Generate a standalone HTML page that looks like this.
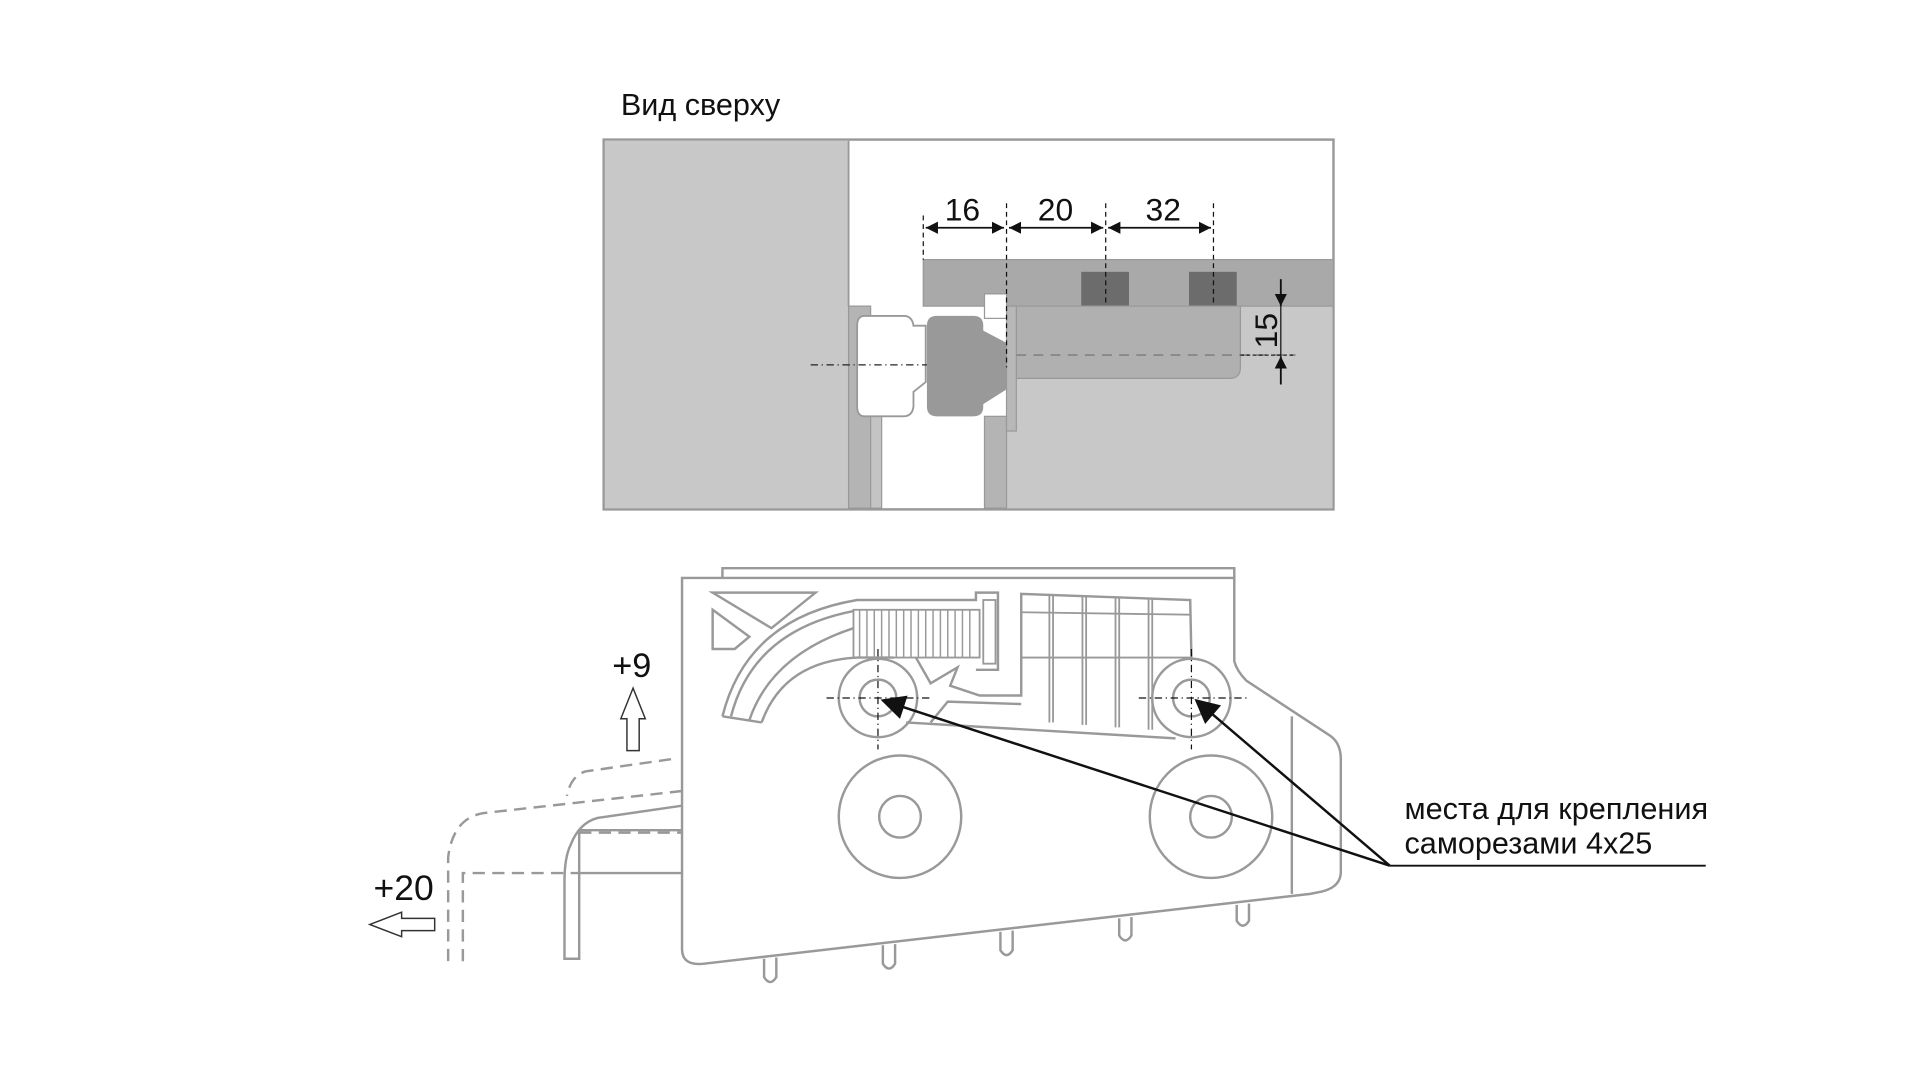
<!DOCTYPE html>
<html><head><meta charset="utf-8"><style>
html,body{margin:0;padding:0;background:#fff;width:1920px;height:1080px;overflow:hidden}
svg{display:block}
text{font-family:"Liberation Sans",sans-serif;fill:#111}
</style></head><body>
<svg width="1920" height="1080" viewBox="0 0 1568 882" preserveAspectRatio="none" xmlns="http://www.w3.org/2000/svg">
<defs>
<marker id="ah" viewBox="0 0 10 10" refX="10" refY="5" markerWidth="10" markerHeight="10" orient="auto-start-reverse" markerUnits="userSpaceOnUse"><path d="M0,0 L10,5 L0,10 z" fill="#111"/></marker>
<marker id="big" viewBox="0 0 10 10" refX="9" refY="5" markerWidth="24" markerHeight="20" orient="auto" markerUnits="userSpaceOnUse"><path d="M0,0 L10,5 L0,10 z" fill="#111"/></marker>
</defs>
<!-- TOP VIEW -->
<text x="507" y="94" font-size="25">Вид сверху</text>
<rect x="493" y="114" width="596" height="302" fill="#fff" stroke="#999" stroke-width="2"/>
<rect x="494" y="115" width="199" height="300" fill="#c8c8c8"/>
<line x1="693" y1="115" x2="693" y2="250" stroke="#999" stroke-width="1.5"/>
<rect x="822" y="250" width="266" height="165" fill="#c8c8c8"/>
<rect x="693" y="250" width="18" height="165" fill="#b4b4b4" stroke="#999" stroke-width="1"/>
<rect x="711" y="258" width="9" height="157" fill="#c4c4c4" stroke="#999" stroke-width="1"/>
<rect x="804" y="340" width="18" height="75" fill="#b4b4b4" stroke="#999" stroke-width="1"/>
<rect x="754" y="212" width="335" height="38" fill="#a9a9a9" stroke="#999" stroke-width="1"/>
<rect x="883" y="222" width="39" height="28" fill="#6c6c6c"/>
<rect x="971" y="222" width="39" height="28" fill="#6c6c6c"/>
<path d="M830,250 H1013 V300 Q1013,309 1004,309 H830 Z" fill="#b0b0b0" stroke="#999"/>
<rect x="822" y="250" width="8" height="102" fill="#b8b8b8" stroke="#999"/>
<path d="M706,258 H738 Q745,258 746,266 H756 V312 L746,320 V332 Q745,340 738,340 H706 Q700,340 700,332 V266 Q700,258 706,258 Z" fill="#fff" stroke="#999" stroke-width="1.5"/>
<path d="M765,258 H795 Q803,258 803,266 V270 L822,280 V318 L803,330 V332 Q803,340 795,340 H765 Q757,340 757,332 V266 Q757,258 765,258 Z" fill="#999"/>
<rect x="804" y="240" width="18" height="20" fill="#fff" stroke="#999"/>
<line x1="662" y1="298" x2="757" y2="298" stroke="#222" stroke-dasharray="6,3,1,3"/>
<line x1="830" y1="290" x2="1058" y2="290" stroke="#888" stroke-width="1.5" stroke-dasharray="8,6"/>
<line x1="1013" y1="290" x2="1058" y2="290" stroke="#222" stroke-dasharray="3,2"/>
<g stroke="#111" stroke-width="1" stroke-dasharray="4,3">
<line x1="754" y1="176" x2="754" y2="212"/><line x1="822" y1="166" x2="822" y2="300"/>
<line x1="903" y1="166" x2="903" y2="250"/><line x1="991" y1="166" x2="991" y2="250"/>
</g>
<g stroke="#111" stroke-width="1.5">
<line x1="756" y1="186" x2="820" y2="186" marker-start="url(#ah)" marker-end="url(#ah)"/>
<line x1="824" y1="186" x2="901" y2="186" marker-start="url(#ah)" marker-end="url(#ah)"/>
<line x1="905" y1="186" x2="989" y2="186" marker-start="url(#ah)" marker-end="url(#ah)"/>
<line x1="1046" y1="228" x2="1046" y2="250" marker-end="url(#ah)"/>
<line x1="1046" y1="314" x2="1046" y2="291" marker-end="url(#ah)"/>
<line x1="1046" y1="250" x2="1046" y2="291" stroke-width="1"/>
</g>
<text x="786" y="180" font-size="26" text-anchor="middle">16</text>
<text x="862" y="180" font-size="26" text-anchor="middle">20</text>
<text x="950" y="180" font-size="26" text-anchor="middle">32</text>
<text x="0" y="0" font-size="26" text-anchor="middle" transform="translate(1043,270) rotate(-90)">15</text>

<!-- BOTTOM VIEW -->
<g fill="none" stroke="#999" stroke-width="2">
<path d="M590,472 V464 H1008 V472"/>
<path d="M557,472 H1008 V540 Q1010,548 1018,556 L1085,600 Q1095,606 1095,620 V712 Q1095,724 1080,728 L1070,730 L575,787 Q557,789 557,775 Z"/>
<line x1="1055" y1="585" x2="1055" y2="730"/>
<path d="M624,783 V798 Q629,806 634,798 V782"/>
<path d="M721,772 V787 Q726,795 731,787 V771"/>
<path d="M817,761 V776 Q822,784 827,776 V760"/>
<path d="M914,750 V764 Q919,772 924,764 V749"/>
<path d="M1010,739 V752 Q1015,760 1020,752 V738"/>
<circle cx="717" cy="570" r="32"/><circle cx="717" cy="570" r="15"/>
<circle cx="973" cy="570" r="32"/><circle cx="973" cy="570" r="15"/>
<ellipse cx="735" cy="667" rx="50" ry="50"/><circle cx="735" cy="667" r="17"/>
<ellipse cx="989" cy="667" rx="50" ry="50"/><circle cx="989" cy="667" r="17"/>
<path d="M582,484 H666 L630,513 Z"/>
<path d="M582,498 L612,520 L600,530 H582 Z"/>
<path d="M590,585 Q610,505 700,490 H797 V484 H815 V547 H797"/>
<path d="M597,585 Q615,515 697,499"/>
<path d="M612,588 Q630,535 697,513"/>
<path d="M622,590 Q640,540 700,537 H730"/>
<path d="M590,585 L622,590"/>
<rect x="697" y="498" width="103" height="39" stroke-width="1.5"/>
<g stroke-width="1.2">
<line x1="702" y1="498" x2="702" y2="537"/><line x1="708" y1="498" x2="708" y2="537"/><line x1="714" y1="498" x2="714" y2="537"/><line x1="720" y1="498" x2="720" y2="537"/><line x1="726" y1="498" x2="726" y2="537"/><line x1="732" y1="498" x2="732" y2="537"/><line x1="738" y1="498" x2="738" y2="537"/><line x1="744" y1="498" x2="744" y2="537"/><line x1="750" y1="498" x2="750" y2="537"/><line x1="756" y1="498" x2="756" y2="537"/><line x1="762" y1="498" x2="762" y2="537"/><line x1="768" y1="498" x2="768" y2="537"/><line x1="774" y1="498" x2="774" y2="537"/><line x1="780" y1="498" x2="780" y2="537"/><line x1="786" y1="498" x2="786" y2="537"/><line x1="792" y1="498" x2="792" y2="537"/>
</g>
<rect x="803" y="490" width="10" height="52" stroke-width="1.5"/>
<path d="M748,537 L760,558 L782,545 L776,560 L800,568 H834 V485 L972,490 L973,538"/>
<path d="M760,590 L774,573 L834,575"/>
<path d="M740,590 L960,603"/>
<g stroke-width="1.5">
<line x1="857" y1="486" x2="857" y2="590"/><line x1="860" y1="486" x2="860" y2="590"/>
<line x1="884" y1="487" x2="884" y2="592"/><line x1="887" y1="487" x2="887" y2="592"/>
<line x1="911" y1="488" x2="911" y2="594"/><line x1="914" y1="488" x2="914" y2="594"/>
<line x1="938" y1="489" x2="938" y2="596"/><line x1="941" y1="489" x2="941" y2="596"/>
<line x1="834" y1="500" x2="972" y2="502"/><line x1="834" y1="537" x2="972" y2="537"/>
</g>
<path d="M557,658 L488,668 Q473,672 466,690 Q461,700 461,720 V783 H473 V678 L557,678"/>
<line x1="473" y1="713" x2="557" y2="713"/>
</g>
<g fill="none" stroke="#999" stroke-width="2" stroke-dasharray="10,6">
<path d="M548,620 L478,630 Q466,634 463,650"/>
<path d="M557,646 L395,664 Q370,668 366,700 V785"/>
<path d="M378,785 V713 H473"/>
<path d="M473,680 H557"/>
</g>
<g stroke="#111" stroke-width="1" stroke-dasharray="6,3,1,3">
<line x1="675" y1="570" x2="762" y2="570"/><line x1="717" y1="530" x2="717" y2="612"/>
<line x1="930" y1="570" x2="1018" y2="570"/><line x1="973" y1="530" x2="973" y2="612"/>
</g>
<g stroke="#111" stroke-width="2" fill="none">
<line x1="1135" y1="707" x2="721" y2="572" marker-end="url(#big)"/>
<line x1="1135" y1="707" x2="977" y2="572" marker-end="url(#big)"/>
<line x1="1135" y1="707" x2="1393" y2="707" stroke-width="1.5"/>
</g>
<text x="1147" y="669" font-size="25" textLength="248" lengthAdjust="spacingAndGlyphs">места для крепления</text>
<text x="1147" y="697" font-size="25">саморезами 4х25</text>
<text x="500" y="553" font-size="28">+9</text>
<path d="M512,613 V587 H507 L517,562 L527,587 H522 V613 Z" fill="#fff" stroke="#333" stroke-width="1.2"/>
<text x="305" y="735" font-size="29">+20</text>
<path d="M355,750 H328 V745 L302,755 L328,765 V760 H355 Z" fill="#fff" stroke="#333" stroke-width="1.2"/>
</svg>
</body></html>
